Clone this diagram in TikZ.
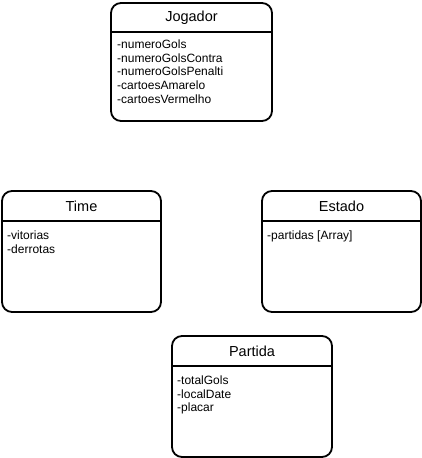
\documentclass[tikz,border=0pt]{standalone}
\usepackage{fontspec}
\setmainfont{Liberation Sans}
\begin{document}
\begin{tikzpicture}[x=1pt,y=-1pt,
  classbox/.style={draw, line width=1.8pt, rounded corners=10pt, inner sep=0pt, outer sep=0pt},
  sepline/.style={line width=1.8pt},
  titletext/.style={font=\fontsize{14.5}{16}\selectfont, anchor=base, inner sep=0pt},
  bodytext/.style={font=\fontsize{12}{13.7}\selectfont, align=left, anchor=base west, inner sep=0pt}]
\useasboundingbox (0,0) rectangle (422,458);

% Jogador
\node[classbox, minimum width=161pt, minimum height=118pt] (jogador) at (191.5,62) {};
\draw[sepline] ([yshift=-29pt]jogador.north west) -- ([yshift=-29pt]jogador.north east);
\node[titletext] (jogadorT) at (191.5,21.5) {Jogador};
\node[bodytext] (jogadorB) at (117,103.3) {-numeroGols\\-numeroGolsContra\\-numeroGolsPenalti\\-cartoesAmarelo\\-cartoesVermelho};

% Time
\node[classbox, minimum width=159pt, minimum height=121pt] (time) at (81.5,251.5) {};
\draw[sepline] ([yshift=-30pt]time.north west) -- ([yshift=-30pt]time.north east);
\node[titletext] (timeT) at (81.5,211) {Time};
\node[bodytext] (timeB) at (7,253.2) {-vitorias\\-derrotas};

% Estado
\node[classbox, minimum width=159pt, minimum height=121pt] (estado) at (341.5,251.5) {};
\draw[sepline] ([yshift=-30pt]estado.north west) -- ([yshift=-30pt]estado.north east);
\node[titletext] (estadoT) at (341.5,211) {Estado};
\node[bodytext] (estadoB) at (267,239.5) {-partidas [Array]};

% Partida
\node[classbox, minimum width=160pt, minimum height=121pt] (partida) at (252,396.5) {};
\draw[sepline] ([yshift=-30pt]partida.north west) -- ([yshift=-30pt]partida.north east);
\node[titletext] (partidaT) at (252,356) {Partida};
\node[bodytext] (partidaB) at (177,411.9) {-totalGols\\-localDate\\-placar};
\end{tikzpicture}
\end{document}
